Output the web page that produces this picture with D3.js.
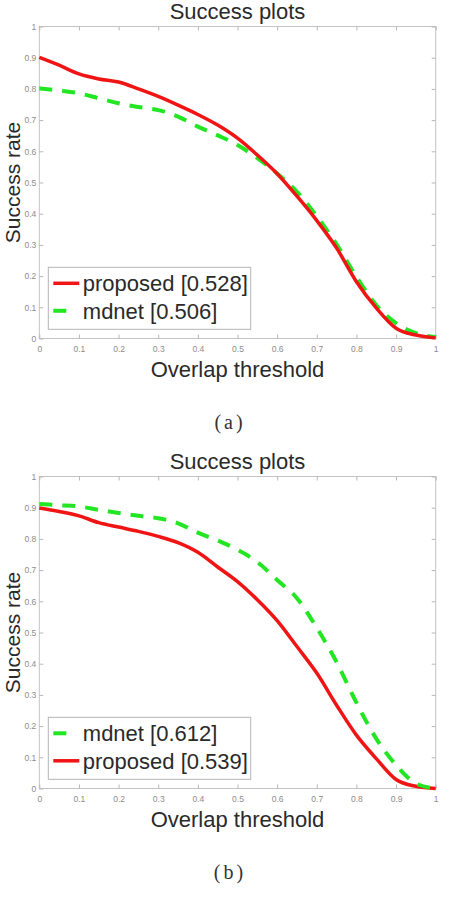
<!DOCTYPE html>
<html>
<head>
<meta charset="utf-8">
<script src="https://cdn.jsdelivr.net/npm/d3@7"></script>
<style>
  body { margin: 0; background: #fff; }
  svg { display: block; }
</style>
</head>
<body>
<div id="chart"></div>
<script>
// overlap thresholds sampled every 0.05
var thresholds = [0, 0.05, 0.1, 0.15, 0.2, 0.25, 0.3, 0.35, 0.4, 0.45, 0.5,
                  0.55, 0.6, 0.65, 0.7, 0.75, 0.8, 0.85, 0.9, 0.95, 1];

var proposedA = [0.901, 0.876, 0.848, 0.832, 0.822, 0.800, 0.776, 0.748, 0.718, 0.684, 0.642,
                 0.588, 0.528, 0.456, 0.378, 0.290, 0.182, 0.098, 0.033, 0.011, 0.002];
var mdnetA    = [0.802, 0.795, 0.786, 0.770, 0.754, 0.742, 0.732, 0.711, 0.679, 0.651, 0.620,
                 0.578, 0.529, 0.470, 0.392, 0.302, 0.198, 0.107, 0.049, 0.017, 0.005];

var proposedB = [0.899, 0.888, 0.874, 0.852, 0.838, 0.824, 0.808, 0.788, 0.757, 0.710, 0.663,
                 0.605, 0.538, 0.455, 0.370, 0.267, 0.171, 0.096, 0.029, 0.007, 0.000];
var mdnetB    = [0.912, 0.908, 0.904, 0.893, 0.883, 0.874, 0.866, 0.850, 0.820, 0.795, 0.765,
                 0.726, 0.668, 0.610, 0.515, 0.405, 0.275, 0.160, 0.075, 0.016, 0.000];

var legendA = ["proposed [0.528]", "mdnet [0.506]"];
var legendB = ["mdnet [0.612]", "proposed [0.539]"];

var xTicks = [0, 0.1, 0.2, 0.3, 0.4, 0.5, 0.6, 0.7, 0.8, 0.9, 1];
var yTicks = [0, 0.1, 0.2, 0.3, 0.4, 0.5, 0.6, 0.7, 0.8, 0.9, 1];

var RED = "#f01414";
var GREEN = "#22e622";
var FONT = "'Liberation Sans', Arial, sans-serif";

var W = 453, H = 912;
var PANEL_OFFSET = 450;
var plot = {left: 39.3, right: 435.7, top: 26.5, bottom: 338.5};

var svg = d3.select("#chart").append("svg")
  .attr("width", W)
  .attr("height", H);

var x = d3.scaleLinear().domain([0, 1]).range([plot.left, plot.right]);
var y = d3.scaleLinear().domain([0, 1]).range([plot.bottom, plot.top]);

function styleFor(name) {
  if (name.indexOf("proposed") == 0) {
    return {color: RED, dash: null, legendDash: null, width: 3.5};
  }
  return {color: GREEN, dash: "13,10", legendDash: "13,14", width: 4};
}

function drawPanel(offsetY, series, legendNames, caption) {
  var g = svg.append("g").attr("transform", "translate(0," + offsetY + ")");

  // frame with inward ticks on all four sides (matlab style)
  g.append("rect")
    .attr("x", plot.left).attr("y", plot.top)
    .attr("width", plot.right - plot.left)
    .attr("height", plot.bottom - plot.top)
    .attr("fill", "none")
    .attr("stroke", "#c4c4c4")
    .attr("stroke-width", 1);

  var axB = d3.axisBottom(x).tickValues(xTicks).tickSizeInner(-4).tickSizeOuter(0)
    .tickFormat(d3.format(""));
  var axT = d3.axisTop(x).tickValues(xTicks).tickSizeInner(-4).tickSizeOuter(0)
    .tickFormat("");
  var axL = d3.axisLeft(y).tickValues(yTicks).tickSizeInner(-4).tickSizeOuter(0)
    .tickFormat(d3.format(""));
  var axR = d3.axisRight(y).tickValues(yTicks).tickSizeInner(-4).tickSizeOuter(0)
    .tickFormat("");

  var gb = g.append("g").attr("transform", "translate(0," + plot.bottom + ")").call(axB);
  var gt = g.append("g").attr("transform", "translate(0," + plot.top + ")").call(axT);
  var gl = g.append("g").attr("transform", "translate(" + plot.left + ",0)").call(axL);
  var gr = g.append("g").attr("transform", "translate(" + plot.right + ",0)").call(axR);

  [gb, gt, gl, gr].forEach(function(a) {
    a.select(".domain").remove();
    a.selectAll(".tick line").attr("stroke", "#b8b8b8");
    a.selectAll(".tick text")
      .attr("fill", "#8c8c8c")
      .style("font-family", FONT)
      .style("font-size", "8.5px");
  });
  gb.selectAll(".tick text").attr("y", 7);
  gl.selectAll(".tick text").attr("x", -3);

  // curves
  var line = d3.line()
    .x(function(d) { return x(d[0]); })
    .y(function(d) { return y(d[1]); })
    .curve(d3.curveMonotoneX);

  series.forEach(function(s) {
    var st = styleFor(s.name);
    var pts = thresholds.map(function(t, i) { return [t, s.values[i]]; });
    g.append("path")
      .datum(pts)
      .attr("d", line)
      .attr("fill", "none")
      .attr("stroke", st.color)
      .attr("stroke-width", st.width)
      .attr("stroke-dasharray", st.dash)
      .attr("stroke-linejoin", "round");
  });

  // title + axis labels
  g.append("text")
    .attr("x", (plot.left + plot.right) / 2).attr("y", 19)
    .attr("text-anchor", "middle")
    .attr("fill", "#2a2a2a")
    .style("font-family", FONT).style("font-size", "22px")
    .text("Success plots");

  g.append("text")
    .attr("x", (plot.left + plot.right) / 2).attr("y", 377)
    .attr("text-anchor", "middle")
    .attr("fill", "#2a2a2a")
    .style("font-family", FONT).style("font-size", "22px")
    .text("Overlap threshold");

  g.append("text")
    .attr("transform", "translate(19.5," + ((plot.top + plot.bottom) / 2) + ") rotate(-90)")
    .attr("text-anchor", "middle")
    .attr("fill", "#2a2a2a")
    .style("font-family", FONT).style("font-size", "21px")
    .text("Success rate");

  // legend
  var lg = g.append("g").attr("transform", "translate(48.3,267.3)");
  lg.append("rect")
    .attr("width", 202.4).attr("height", 62)
    .attr("fill", "#fff")
    .attr("stroke", "#b4b4b4")
    .attr("stroke-width", 1);
  legendNames.forEach(function(name, i) {
    var st = styleFor(name);
    var cy = 16 + i * 27.5;
    lg.append("line")
      .attr("x1", 5).attr("x2", 31)
      .attr("y1", cy).attr("y2", cy)
      .attr("stroke", st.color)
      .attr("stroke-width", st.width)
      .attr("stroke-dasharray", st.legendDash);
    lg.append("text")
      .attr("x", 34.5).attr("y", cy + 8)
      .attr("fill", "#2a2a2a")
      .style("font-family", FONT).style("font-size", "22px")
      .text(name);
  });

  // caption under the panel
  g.append("text")
    .attr("x", 230).attr("y", 429)
    .attr("text-anchor", "middle")
    .attr("fill", "#333")
    .style("font-family", "'Liberation Serif', 'DejaVu Serif', serif")
    .style("font-size", "20px")
    .style("letter-spacing", "3px")
    .text(caption);
}

drawPanel(0, [
  {name: "mdnet", values: mdnetA},
  {name: "proposed", values: proposedA}
], legendA, "(a)");

drawPanel(PANEL_OFFSET, [
  {name: "proposed", values: proposedB},
  {name: "mdnet", values: mdnetB}
], legendB, "(b)");
</script>
</body>
</html>
